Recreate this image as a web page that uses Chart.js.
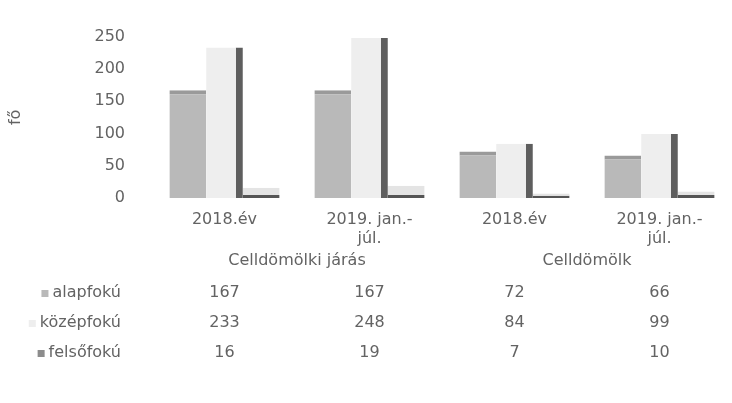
<!DOCTYPE html>
<html>
<head>
<meta charset="utf-8">
<script src="https://cdn.jsdelivr.net/npm/chart.js@4.4.0/dist/chart.umd.min.js"></script>
<style>
  html, body { margin: 0; padding: 0; background: #fff; }
  #wrap { width: 732px; height: 403px; }
</style>
</head>
<body>
<div id="wrap"><canvas id="chart" width="732" height="403"></canvas></div>
<script>
// ---- DATA ----
const CATEGORIES = [['2018.év'], ['2019. jan.-', 'júl.'], ['2018.év'], ['2019. jan.-', 'júl.']];
const GROUPS = ['Celldömölki járás', 'Celldömölk'];
const SERIES_NAMES = ['alapfokú', 'középfokú', 'felsőfokú'];
const ALAPFOKU = [167, 167, 72, 66];
const KOZEPFOKU = [233, 248, 84, 99];
const FELSOFOKU = [16, 19, 7, 10];
const Y_TICKS = [0, 50, 100, 150, 200, 250];

const FONT = "'DejaVu Sans', 'Open Sans', sans-serif";
const TEXT = '#636363';
const FILLS = ['#b9b9b9', '#eeeeee', '#8c8c8c'];

// ---- data table under the plot ----
const tablePlugin = {
  id: 'dataTable',
  afterDraw(chart) {
    const { ctx, scales: { x } } = chart;
    const values = [ALAPFOKU, KOZEPFOKU, FELSOFOKU];
    const rowY = [293, 323, 353];
    ctx.save();
    ctx.font = '16px ' + FONT;
    ctx.fillStyle = TEXT;
    ctx.textBaseline = 'middle';

    // group labels
    ctx.textAlign = 'center';
    GROUPS.forEach((g, i) => {
      const cx = (x.getPixelForValue(i * 2) + x.getPixelForValue(i * 2 + 1)) / 2;
      ctx.fillText(g, cx, 261);
    });

    // rows
    SERIES_NAMES.forEach((name, r) => {
      ctx.textAlign = 'right';
      ctx.fillStyle = TEXT;
      ctx.fillText(name, 121, rowY[r]);
      const w = ctx.measureText(name).width;
      ctx.fillStyle = FILLS[r];
      ctx.fillRect(121 - w - 11, rowY[r] - 3, 7, 7);
      ctx.fillStyle = TEXT;
      ctx.textAlign = 'center';
      values[r].forEach((v, i) => {
        ctx.fillText(String(v), x.getPixelForValue(i), rowY[r]);
      });
    });
    ctx.restore();
  },
};

new Chart(document.getElementById('chart'), {
  type: 'bar',
  data: {
    labels: CATEGORIES,
    datasets: [
      {
        label: SERIES_NAMES[0],
        data: ALAPFOKU,
        backgroundColor: FILLS[0],
        borderColor: '#9a9a9a',
        borderWidth: { top: 4, right: 0, bottom: 0, left: 0 },
        borderSkipped: false,
      },
      {
        label: SERIES_NAMES[1],
        data: KOZEPFOKU,
        backgroundColor: FILLS[1],
        borderColor: '#5e5e5e',
        borderWidth: { top: 0, right: 7, bottom: 0, left: 0 },
        borderSkipped: false,
      },
      {
        label: SERIES_NAMES[2],
        data: FELSOFOKU,
        backgroundColor: '#e4e4e4',
        borderColor: '#555555',
        borderWidth: { top: 0, right: 0, bottom: 3, left: 0 },
        borderSkipped: false,
      },
    ],
  },
  options: {
    responsive: false,
    animation: false,
    layout: { padding: { top: 28, right: 0, left: 0, bottom: 0 } },
    datasets: { bar: { categoryPercentage: 0.76, barPercentage: 1.0 } },
    plugins: {
      legend: { display: false },
      tooltip: { enabled: false },
    },
    scales: {
      x: {
        grid: { display: false },
        border: { display: false },
        ticks: {
          color: TEXT,
          font: { family: FONT, size: 16, lineHeight: 1.2 },
          padding: 4,
          maxRotation: 0,
          autoSkip: false,
        },
        afterFit(scale) { scale.height = 205; },
      },
      y: {
        min: 0,
        max: 250,
        afterBuildTicks(scale) { scale.ticks = Y_TICKS.map(v => ({ value: v })); },
        grid: { display: false, drawTicks: false },
        border: { display: false },
        ticks: {
          color: TEXT,
          font: { family: FONT, size: 16 },
          padding: 27,
        },
        title: {
          display: true,
          text: 'fő',
          color: TEXT,
          font: { family: FONT, size: 16 },
          padding: { top: 6, bottom: 0 },
        },
        afterFit(scale) { scale.width = 152; },
      },
    },
  },
  plugins: [tablePlugin],
});
</script>
</body>
</html>
